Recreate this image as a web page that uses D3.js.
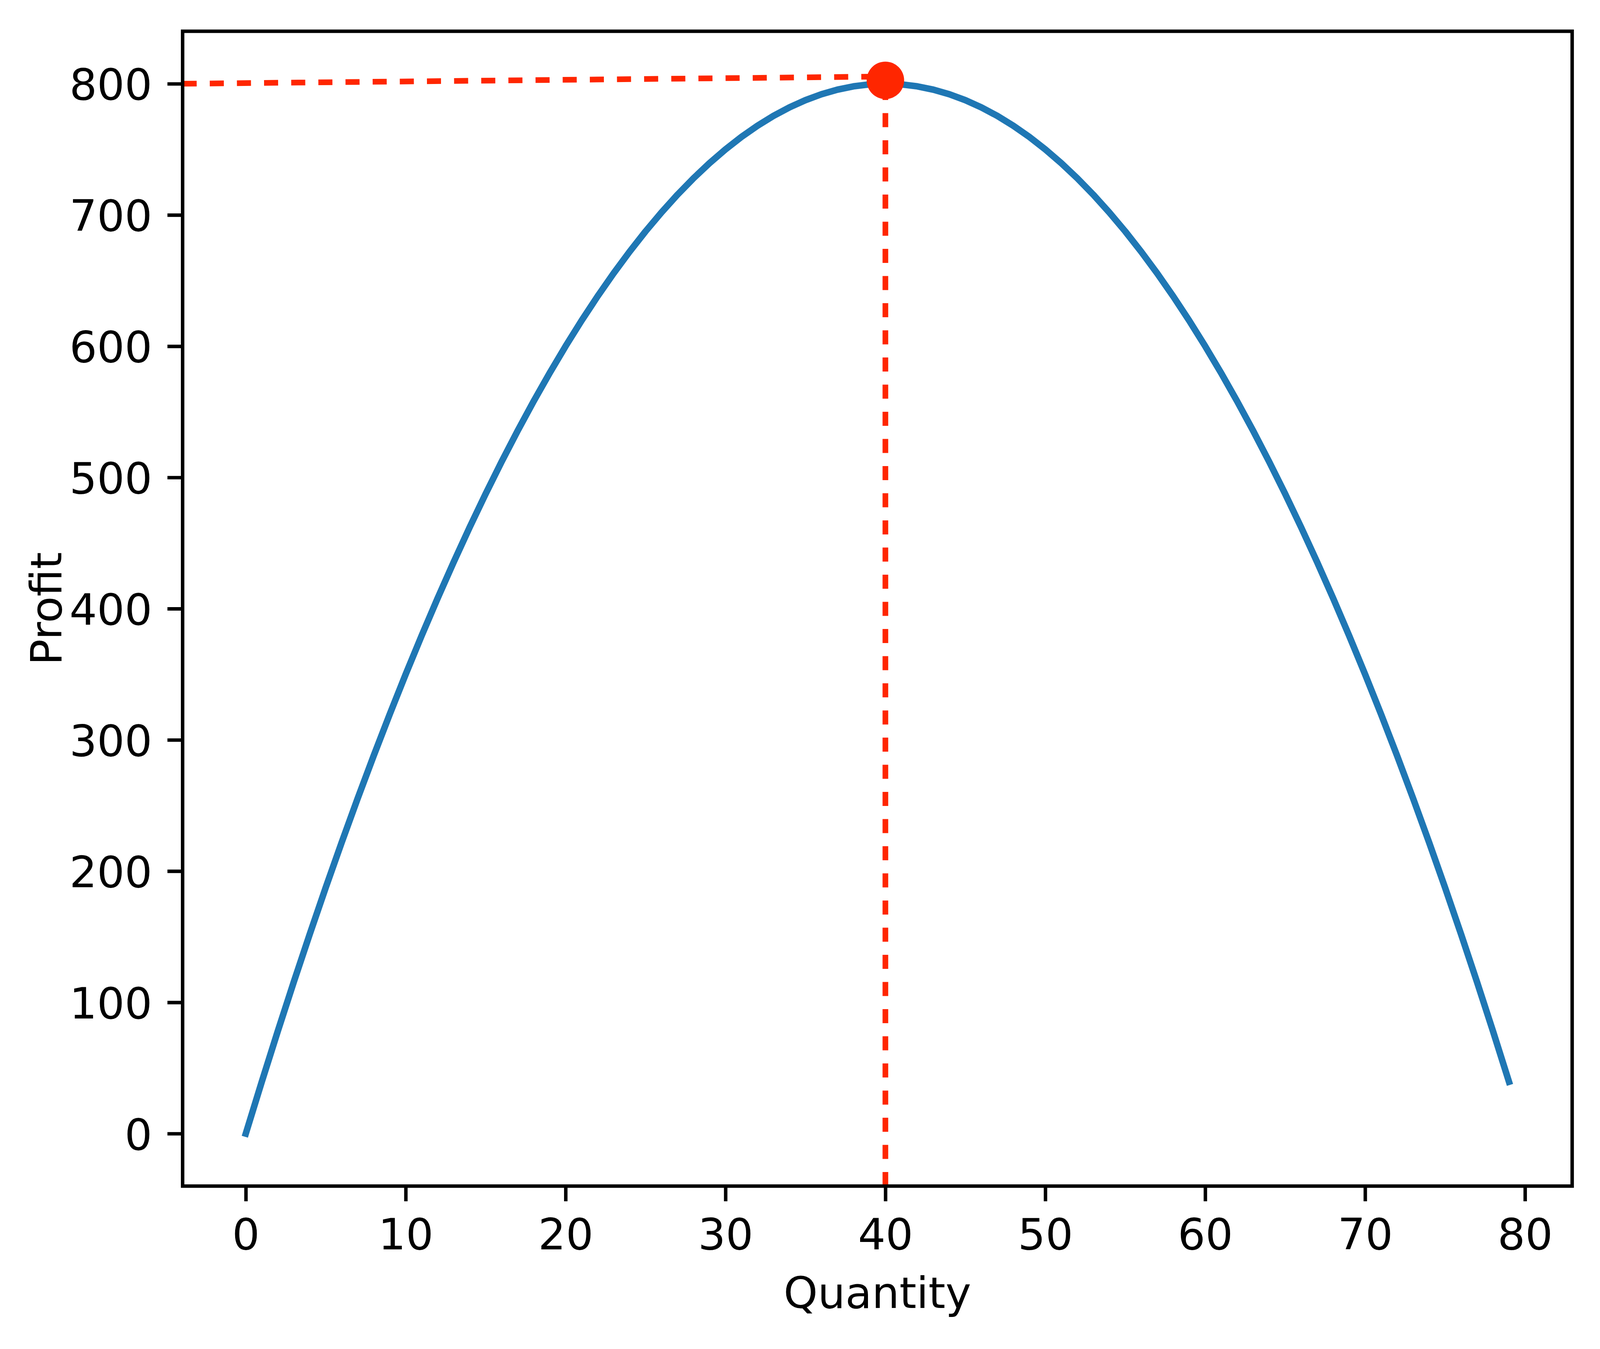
<!DOCTYPE html>
<html>
<head>
<meta charset="utf-8">
<script src="https://cdn.jsdelivr.net/npm/d3@7"></script>
<style>
  html, body { margin: 0; padding: 0; width: 100%; height: 100%; overflow: hidden; background: #ffffff; }
  svg { display: block; }
</style>
</head>
<body>
<div id="chart"></div>
<script>
// data
const quantity = [
  0, 1, 2, 3, 4, 5, 6, 7, 8, 9, 10, 11, 12, 13, 14, 15, 16, 17, 18, 19,
  20, 21, 22, 23, 24, 25, 26, 27, 28, 29, 30, 31, 32, 33, 34, 35, 36, 37, 38, 39,
  40, 41, 42, 43, 44, 45, 46, 47, 48, 49, 50, 51, 52, 53, 54, 55, 56, 57, 58, 59,
  60, 61, 62, 63, 64, 65, 66, 67, 68, 69, 70, 71, 72, 73, 74, 75, 76, 77, 78, 79
];
const profit = [
  0, 39.5, 78, 115.5, 152, 187.5, 222, 255.5, 288, 319.5,
  350, 379.5, 408, 435.5, 462, 487.5, 512, 535.5, 558, 579.5,
  600, 619.5, 638, 655.5, 672, 687.5, 702, 715.5, 728, 739.5,
  750, 759.5, 768, 775.5, 782, 787.5, 792, 795.5, 798, 799.5,
  800, 799.5, 798, 795.5, 792, 787.5, 782, 775.5, 768, 759.5,
  750, 739.5, 728, 715.5, 702, 687.5, 672, 655.5, 638, 619.5,
  600, 579.5, 558, 535.5, 512, 487.5, 462, 435.5, 408, 379.5,
  350, 319.5, 288, 255.5, 222, 187.5, 152, 115.5, 78, 39.5
];
const peakQuantity = 40;
const peakProfit = 802.6;
// dashed guide lines (x, y)
const guideH = [[-3.95, 800], [40, 805.5]];
const guideV = [[40, -40], [40, 802.6]];

const xTicks = [0, 10, 20, 30, 40, 50, 60, 70, 80];
const yTicks = [0, 100, 200, 300, 400, 500, 600, 700, 800];
const xDomain = [-3.95, 82.95];
const yDomain = [-40, 840];
const xLabel = 'Quantity';
const yLabel = 'Profit';

// the window may be narrower than the 4569x3453 figure, so place things
// proportionally to the real viewport
const refW = 4569, refH = 3453;
const W = window.innerWidth || refW;
const H = window.innerHeight || refH;
const sx = W / refW, sy = H / refH;
const plot = { left: 521.5 * sx, right: 4489.5 * sx, top: 80 * sy, bottom: 3036 * sy };
const pt = 800 / 72 * sy;          // 10pt text at 800 dpi
const fontSize = 10 * pt;
const tickLen = 3.5 * pt;
const tickPad = 3.5 * pt;
const spineW = 0.8 * pt;
const red = '#ff2600';
const blue = '#1f77b4';

const svg = d3.select('#chart')
  .append('svg')
  .attr('width', W)
  .attr('height', H)
  .style('font-family', '"DejaVu Sans", sans-serif');

svg.append('rect').attr('width', W).attr('height', H).attr('fill', '#ffffff');

const x = d3.scaleLinear().domain(xDomain).range([plot.left, plot.right]);
const y = d3.scaleLinear().domain(yDomain).range([plot.bottom, plot.top]);

svg.append('defs')
  .append('clipPath')
  .attr('id', 'plot-clip')
  .append('rect')
  .attr('x', plot.left)
  .attr('y', plot.top)
  .attr('width', plot.right - plot.left)
  .attr('height', plot.bottom - plot.top);

const inner = svg.append('g').attr('clip-path', 'url(#plot-clip)');

// profit curve
const line = d3.line()
  .x(d => x(d[0]))
  .y(d => y(d[1]));

inner.append('path')
  .datum(quantity.map((q, i) => [q, profit[i]]))
  .attr('d', line)
  .attr('fill', 'none')
  .attr('stroke', blue)
  .attr('stroke-width', 1.5 * pt)
  .attr('stroke-linecap', 'square')
  .attr('stroke-linejoin', 'round');

// dashed guides to the peak
[guideH, guideV].forEach(g => {
  inner.append('path')
    .datum(g)
    .attr('d', line)
    .attr('fill', 'none')
    .attr('stroke', red)
    .attr('stroke-width', 14.5 * sy)
    .attr('stroke-dasharray', `${36 * sy} ${33.5 * sy}`);
});

// peak marker
inner.append('circle')
  .attr('cx', x(peakQuantity))
  .attr('cy', y(peakProfit))
  .attr('r', 48 * sy)
  .attr('fill', red);

// axes
const xAxis = svg.append('g')
  .attr('transform', `translate(0, ${plot.bottom})`)
  .call(d3.axisBottom(x).tickValues(xTicks).tickSize(tickLen).tickSizeOuter(0).tickPadding(tickPad));

const yAxis = svg.append('g')
  .attr('transform', `translate(${plot.left}, 0)`)
  .call(d3.axisLeft(y).tickValues(yTicks).tickSize(tickLen).tickSizeOuter(0).tickPadding(tickPad));

[xAxis, yAxis].forEach(a => {
  a.select('.domain').remove();
  a.selectAll('.tick line').attr('stroke', '#000').attr('stroke-width', spineW);
  a.selectAll('.tick text')
    .attr('fill', '#000')
    .style('font-size', fontSize + 'px')
    .style('font-family', '"DejaVu Sans", sans-serif');
});
xAxis.selectAll('.tick text').attr('dy', '0.76em');
yAxis.selectAll('.tick text').attr('dy', '0.365em');

// spines
svg.append('rect')
  .attr('x', plot.left)
  .attr('y', plot.top)
  .attr('width', plot.right - plot.left)
  .attr('height', plot.bottom - plot.top)
  .attr('fill', 'none')
  .attr('stroke', '#000')
  .attr('stroke-width', spineW)
  .attr('stroke-linejoin', 'miter');

// axis labels
svg.append('text')
  .attr('x', (plot.left + plot.right) / 2)
  .attr('y', 3348 * sy)
  .attr('text-anchor', 'middle')
  .style('font-size', fontSize + 'px')
  .text(xLabel);

svg.append('text')
  .attr('transform', `translate(${175 * sx}, ${(plot.top + plot.bottom) / 2}) rotate(-90)`)
  .attr('text-anchor', 'middle')
  .style('font-size', fontSize + 'px')
  .text(yLabel);
</script>
</body>
</html>
